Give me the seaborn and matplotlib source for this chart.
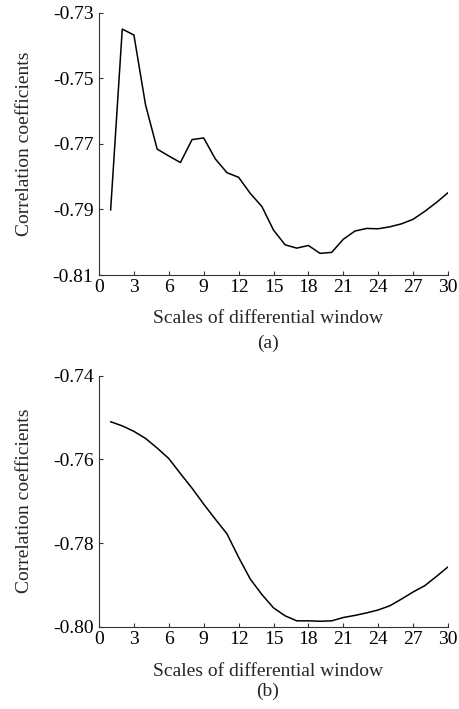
import matplotlib
matplotlib.use("Agg")
import matplotlib.pyplot as plt
import seaborn as sns
import pandas as pd

scales = list(range(1, 31))
corr_a = [-0.7902, -0.7350, -0.7368, -0.7581, -0.7716, -0.7737, -0.7757, -0.7687, -0.7682, -0.7746,
          -0.7788, -0.7802, -0.7851, -0.7891, -0.7963, -0.8008, -0.8018, -0.8010, -0.8034, -0.8031,
          -0.7991, -0.7966, -0.7958, -0.7959, -0.7953, -0.7944, -0.7930, -0.7906, -0.7879, -0.7849]
corr_b = [-0.7510, -0.7520, -0.7533, -0.7550, -0.7573, -0.7598, -0.7634, -0.7669, -0.7707, -0.7743,
          -0.7778, -0.7834, -0.7886, -0.7923, -0.7955, -0.7974, -0.7986, -0.7986, -0.7987, -0.7986,
          -0.7978, -0.7973, -0.7967, -0.7960, -0.7950, -0.7934, -0.7917, -0.7902, -0.7880, -0.7857]
xticks = list(range(0, 31, 3))
yticks_a = [-0.81, -0.79, -0.77, -0.75, -0.73]
yticks_b = [-0.80, -0.78, -0.76, -0.74]
xlabel = "Scales of differential window"
ylabel = "Correlation coefficients"
panel_labels = ["(a)", "(b)"]

sns.set_style("ticks")
plt.rcParams['font.family'] = ['Liberation Serif', 'DejaVu Serif']

W, H = 459, 709
fig = plt.figure(figsize=(W / 100, H / 100), dpi=100)

def add_axes(left, top, right, bottom):
    return fig.add_axes([left / W, 1 - bottom / H, (right - left) / W, (bottom - top) / H])

ax1 = add_axes(99, 12.7, 448, 275)
ax2 = add_axes(99, 375.7, 448, 626.7)

FS = 14
specs = [(ax1, corr_a, yticks_a, panel_labels[0], -0.133, -0.229),
         (ax2, corr_b, yticks_b, panel_labels[1], -0.145, -0.224)]
for ax, vals, yt, lab, xl_y, pl_y in specs:
    df = pd.DataFrame({"scale": scales, "corr": vals})
    sns.lineplot(data=df, x="scale", y="corr", ax=ax, color="black", linewidth=1.1)
    ax.set_xlim(0, 30)
    ax.set_ylim(yt[0], yt[-1])
    ax.set_xticks(xticks)
    ax.set_yticks(yt)
    ax.set_yticklabels([f"{v:.2f}" for v in yt])
    ax.tick_params(direction="in", length=3, width=0.8, labelsize=FS, colors="#333333",
                   labelcolor="black")
    ax.tick_params(axis="y", pad=4)
    ax.tick_params(axis="x", pad=3)
    for s in ["top", "right"]:
        ax.spines[s].set_visible(False)
    for s in ["left", "bottom"]:
        ax.spines[s].set_linewidth(0.8)
        ax.spines[s].set_color("#333333")
    ax.set_xlabel(xlabel, fontsize=FS)
    ax.set_ylabel(ylabel, fontsize=FS)
    ax.xaxis.set_label_coords(0.484, xl_y)
    ax.xaxis.label.set_va("top")
    ax.yaxis.set_label_coords(-0.19, 0.5)
    ax.text(0.484, pl_y, lab, transform=ax.transAxes, ha="center", va="top", fontsize=FS)

fig.savefig("out.png", dpi=100, facecolor="white")
